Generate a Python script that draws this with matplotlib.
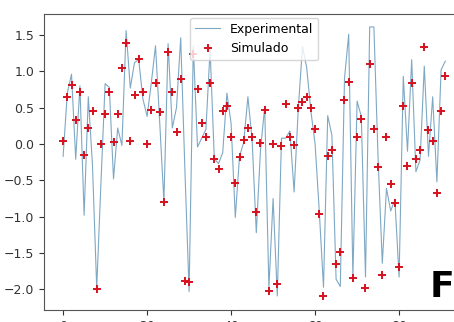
import numpy as np
import matplotlib
matplotlib.use('Agg')  # no display
import matplotlib.pyplot as plt

# time index (samples)
t = np.arange(92)

# experimental signal (line)
experimental = [
    -0.17, 0.70, 0.96, -0.21, 0.80, -0.98, 0.65, -0.30, -1.98, -0.55,
    0.83, 0.78, -0.48, 0.22, -0.02, 1.56, 0.77, 1.12, 1.16, 0.62,
    0.38, 0.84, 1.35, 0.30, -0.79, 1.38, 0.22, 0.50, 1.46, -0.36,
    -2.03, 1.35, -0.04, 0.08, 0.20, 1.30, -0.20, -0.27, -0.12, 0.70,
    0.28, -1.01, -0.17, 0.02, 0.65, 0.06, -1.22, -0.08, 0.51, -1.98,
    -0.75, -2.09, 0.08, 0.08, 0.18, -0.66, 0.49, 1.34, 1.05, 0.45,
    0.00, -0.93, -1.97, 0.39, 0.12, -1.86, -1.96, 0.90, 1.51, -1.83,
    0.59, 0.38, -1.83, 1.61, 1.61, -0.20, -1.64, -0.61, -0.92, -0.77,
    -1.83, 0.93, -0.10, 1.16, -0.38, -0.22, 1.07, -0.17, 0.65, -0.52,
    1.02, 1.14,
]

# simulated signal (markers)
simulado = [
    0.04, 0.65, 0.81, 0.33, 0.71, -0.15, 0.22, 0.45, -1.99, 0.00,
    0.41, 0.71, 0.03, 0.41, 1.05, 1.39, 0.04, 0.68, 1.17, 0.71,
    0.00, 0.47, 0.84, 0.44, -0.80, 1.27, 0.71, 0.16, 0.90, -1.88,
    -1.90, 1.24, 0.75, 0.29, 0.09, 0.84, -0.21, -0.35, 0.45, 0.52,
    0.09, -0.54, -0.18, 0.05, 0.22, 0.10, -0.93, 0.02, 0.47, -2.02,
    0.00, -1.92, -0.03, 0.55, 0.09, -0.02, 0.49, 0.58, 0.65, 0.49,
    0.21, -0.96, -2.09, -0.16, -0.08, -1.65, -1.49, 0.60, 0.85, -1.84,
    0.09, 0.35, -1.98, 1.10, 0.21, -0.32, -1.80, 0.10, -0.55, -0.81,
    -1.69, 0.52, -0.30, 0.84, -0.20, -0.08, 1.34, 0.19, 0.04, -0.67,
    0.46, 0.93,
]

fig = plt.figure(figsize=(4.54, 3.22), dpi=100)
# axes run past the right edge, the reference is cropped there
ax = fig.add_axes([44 / 454, 12 / 322, 420.4 / 454, 296 / 322])

ax.plot(t, experimental, color='#7fa8c4', lw=0.8, label='Experimental')
ax.plot(t, simulado, ls='none', marker='+', color='#d7111f',
        markersize=5.5, markeredgewidth=1.4, label='Simulado')

ax.set_xlim(-4.55, 95.55)
ax.set_ylim(-2.283, 1.788)
ax.set_xticks([0, 20, 40, 60, 80])
ax.set_yticks([-2.0, -1.5, -1.0, -0.5, 0.0, 0.5, 1.0, 1.5])
ax.tick_params(labelsize=9, colors='#333333')
for s in ax.spines.values():
    s.set_color('#555555')

ax.legend(loc='upper center', fontsize=9, borderaxespad=0.3)

fig.text(442 / 454, 25 / 322, 'F', fontsize=26, fontweight='bold',
         ha='center', va='baseline')

fig.savefig('out.png', dpi=100)
plt.close(fig)
